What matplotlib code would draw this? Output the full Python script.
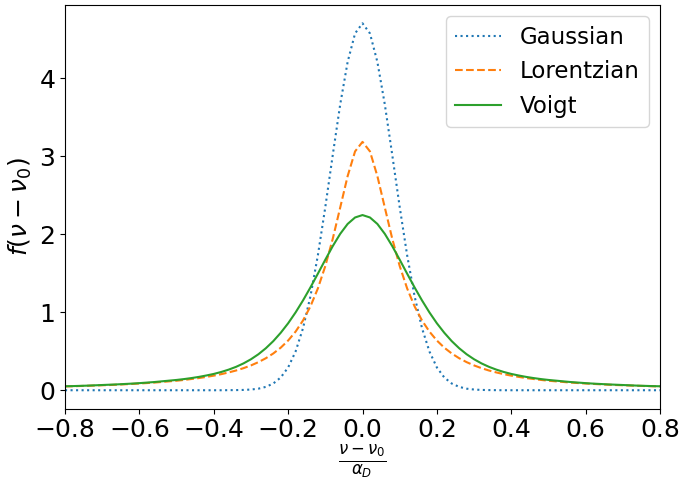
import numpy as np
import matplotlib
matplotlib.use('Agg')
import matplotlib.pyplot as plt

# x grid (nu - nu0) / alpha_D
x = np.round(np.arange(-40, 41) * 0.02, 2)

# values, left tail -> peak -> right tail
gaussian = [0.000] * 20 + [
    0.000, 0.000, 0.001, 0.002, 0.004, 0.009, 0.020, 0.043, 0.086, 0.163,
    0.292, 0.496, 0.795, 1.205, 1.730, 2.348, 3.015, 3.662, 4.207, 4.573,
    4.702,
    4.573, 4.207, 3.662, 3.015, 2.348, 1.730, 1.205, 0.795, 0.496, 0.292,
    0.163, 0.086, 0.043, 0.020, 0.009, 0.004, 0.002, 0.001, 0.000, 0.000,
] + [0.000] * 20

lorentzian = [
    0.049, 0.051, 0.054, 0.057, 0.060, 0.064, 0.067, 0.071, 0.076, 0.081,
    0.086, 0.092, 0.098, 0.106, 0.114, 0.122, 0.132, 0.144, 0.156, 0.171,
    0.187, 0.206, 0.228, 0.253, 0.283, 0.318, 0.360, 0.410, 0.471, 0.545,
    0.637, 0.751, 0.894, 1.075, 1.305, 1.592, 1.941, 2.341, 2.744, 3.061,
    3.183,
    3.061, 2.744, 2.341, 1.941, 1.592, 1.305, 1.075, 0.894, 0.751, 0.637,
    0.545, 0.471, 0.410, 0.360, 0.318, 0.283, 0.253, 0.228, 0.206, 0.187,
    0.171, 0.156, 0.144, 0.132, 0.122, 0.114, 0.106, 0.098, 0.092, 0.086,
    0.081, 0.076, 0.071, 0.067, 0.064, 0.060, 0.057, 0.054, 0.051, 0.049,
]

voigt = [
    0.051, 0.053, 0.056, 0.059, 0.063, 0.067, 0.071, 0.075, 0.080, 0.085,
    0.091, 0.098, 0.105, 0.114, 0.123, 0.132, 0.143, 0.156, 0.171, 0.189,
    0.209, 0.234, 0.264, 0.300, 0.344, 0.397, 0.461, 0.538, 0.629, 0.736,
    0.858, 0.997, 1.151, 1.318, 1.494, 1.673, 1.847, 2.004, 2.131, 2.214,
    2.245,
    2.214, 2.131, 2.004, 1.847, 1.673, 1.494, 1.318, 1.151, 0.997, 0.858,
    0.736, 0.629, 0.538, 0.461, 0.397, 0.344, 0.300, 0.264, 0.234, 0.209,
    0.189, 0.171, 0.156, 0.143, 0.132, 0.123, 0.114, 0.105, 0.098, 0.091,
    0.085, 0.080, 0.075, 0.071, 0.067, 0.063, 0.059, 0.056, 0.053, 0.051,
]

plt.rcParams['font.size'] = 18

fig = plt.figure(figsize=(6.8, 4.79), dpi=100)
ax = fig.add_axes([0.0956, 0.147, 0.875, 0.8426])

ax.plot(x, gaussian, ':', color='C0', label='Gaussian')
ax.plot(x, lorentzian, '--', color='C1', label='Lorentzian')
ax.plot(x, voigt, '-', color='C2', label='Voigt')

ax.set_xlim(-0.8, 0.8)
ax.set_xticks([-0.8, -0.6, -0.4, -0.2, 0.0, 0.2, 0.4, 0.6, 0.8])
ax.set_yticks([0, 1, 2, 3, 4])
ax.set_xlabel(r'$\frac{\nu-\nu_0}{\alpha_D}$', fontsize=17, labelpad=0)
ax.set_ylabel(r'$f(\nu-\nu_0)$')
ax.legend(loc='upper right', fontsize=16.5)

fig.savefig('out.png', dpi=100)
